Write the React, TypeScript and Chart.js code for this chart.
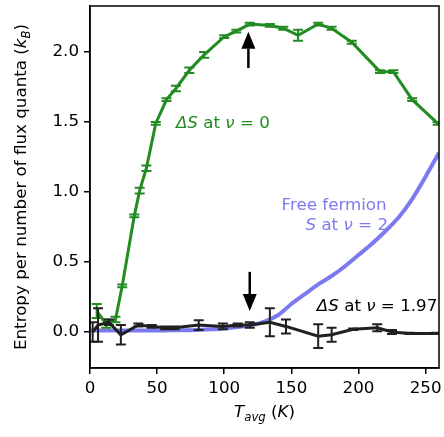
import React, { useEffect, useRef } from "react";
import { Chart, registerables } from "chart.js";
Chart.register(...registerables);

const greenT = [5, 12, 19, 24, 33, 37, 42, 49, 57, 64, 74, 85, 100, 109, 119, 134, 144, 155, 170, 180, 195, 216, 226, 240, 259];
const greenS = [0.15, 0.06, 0.09, 0.33, 0.83, 1.01, 1.17, 1.49, 1.66, 1.74, 1.87, 1.98, 2.11, 2.15, 2.2, 2.19, 2.17, 2.12, 2.2, 2.17, 2.07, 1.86, 1.86, 1.66, 1.49];
const greenErr = [0.05, 0.03, 0.02, 0.01, 0.01, 0.02, 0.02, 0.01, 0.01, 0.02, 0.02, 0.02, 0.01, 0.01, 0.01, 0.01, 0.01, 0.04, 0.01, 0.01, 0.01, 0.01, 0.01, 0.01, 0.01];

const blackT = [2, 6, 14, 23, 36, 46, 56, 63, 81, 99, 110, 119, 134, 146, 170, 180, 196, 214, 225, 238, 258];
const blackS = [0.0, 0.05, 0.07, -0.02, 0.05, 0.04, 0.03, 0.03, 0.05, 0.04, 0.05, 0.05, 0.07, 0.04, -0.03, -0.02, 0.02, 0.03, 0.0, -0.01, -0.01];
const blackErr = [0.07, 0.12, 0.02, 0.07, 0.01, 0.01, 0.01, 0.01, 0.035, 0.02, 0.01, 0.02, 0.1, 0.05, 0.085, 0.05, 0.005, 0.025, 0.015, 0.005, 0.005];

const fermionT = [0, 20, 40, 60, 80, 100, 110, 120, 130, 140, 150, 160, 170, 180, 190, 200, 210, 220, 230, 240, 250, 260];
const fermionS = [0.01, 0.01, 0.01, 0.012, 0.015, 0.025, 0.035, 0.05, 0.075, 0.12, 0.2, 0.27, 0.34, 0.4, 0.47, 0.55, 0.63, 0.72, 0.82, 0.95, 1.11, 1.28];

const xTicks = [0, 50, 100, 150, 200, 250];
const yTicks = [0, 0.5, 1.0, 1.5, 2.0];

const arrowUp = { x: 118, from: 1.886, to: 2.145 };
const arrowDown = { x: 119, from: 0.43, to: 0.15 };

const GREEN = "#228b22";
const BLACK = "#202020";
const BLUE = "#7b7bef";
const FONT = '"DejaVu Sans"';
const FS = 16.7;

type Run = [string, string];

function drawRich(ctx: CanvasRenderingContext2D, runs: Run[], x: number, y: number, align: string, color: string, size: number) {
  const fontFor = (s: string) => {
    const it = s.includes("i") ? "italic " : "";
    const sz = s.includes("s") ? size * 0.7 : size;
    return `${it}${sz}px ${FONT}`;
  };
  let total = 0;
  const widths = runs.map(([t, s]) => {
    ctx.font = fontFor(s);
    const w = ctx.measureText(t).width;
    total += w;
    return w;
  });
  let cx = align === "left" ? x : align === "right" ? x - total : x - total / 2;
  ctx.fillStyle = color;
  ctx.textBaseline = "alphabetic";
  ctx.textAlign = "left";
  runs.forEach(([t, s], i) => {
    ctx.font = fontFor(s);
    ctx.fillText(t, cx, y + (s.includes("s") ? size * 0.22 : 0));
    cx += widths[i];
  });
}

const errorBars = {
  id: "errorBars",
  afterDatasetDraw(chart: any, args: any) {
    const ds = chart.data.datasets[args.index];
    if (!ds.errors) return;
    const { ctx, chartArea } = chart;
    const xs = chart.scales.x;
    const ys = chart.scales.y;
    ctx.save();
    ctx.beginPath();
    ctx.rect(chartArea.left, chartArea.top, chartArea.right - chartArea.left, chartArea.bottom - chartArea.top);
    ctx.clip();
    ctx.strokeStyle = ds.borderColor;
    ctx.lineWidth = 2;
    ds.data.forEach((p: any, i: number) => {
      const e = ds.errors[i];
      const px = xs.getPixelForValue(p.x);
      const y1 = ys.getPixelForValue(p.y + e);
      const y2 = ys.getPixelForValue(p.y - e);
      ctx.beginPath();
      ctx.moveTo(px, y1);
      ctx.lineTo(px, y2);
      ctx.moveTo(px - 5, y1);
      ctx.lineTo(px + 5, y1);
      ctx.moveTo(px - 5, y2);
      ctx.lineTo(px + 5, y2);
      ctx.stroke();
    });
    ctx.restore();
  },
};

function drawArrow(ctx: CanvasRenderingContext2D, x: number, y0: number, y1: number) {
  const dir = y1 < y0 ? -1 : 1;
  const headLen = 17;
  const headW = 7;
  ctx.strokeStyle = "#000";
  ctx.fillStyle = "#000";
  ctx.lineWidth = 2.5;
  ctx.beginPath();
  ctx.moveTo(x, y0);
  ctx.lineTo(x, y1 - dir * headLen);
  ctx.stroke();
  ctx.beginPath();
  ctx.moveTo(x, y1);
  ctx.lineTo(x - headW, y1 - dir * headLen);
  ctx.lineTo(x + headW, y1 - dir * headLen);
  ctx.closePath();
  ctx.fill();
}

const decorations = {
  id: "decorations",
  afterDraw(chart: any) {
    const { ctx, chartArea } = chart;
    const xs = chart.scales.x;
    const ys = chart.scales.y;
    ctx.save();
    ctx.strokeStyle = "#000";
    ctx.lineWidth = 1.5;
    ctx.strokeRect(chartArea.left, chartArea.top, chartArea.right - chartArea.left, chartArea.bottom - chartArea.top);
    drawArrow(ctx, xs.getPixelForValue(arrowUp.x), ys.getPixelForValue(arrowUp.from), ys.getPixelForValue(arrowUp.to));
    drawArrow(ctx, xs.getPixelForValue(arrowDown.x), ys.getPixelForValue(arrowDown.from), ys.getPixelForValue(arrowDown.to));
    const cap = FS * 0.36;
    drawRich(ctx, [["ΔS", "i"], [" at ", "n"], ["ν", "i"], [" = 0", "n"]], xs.getPixelForValue(64), ys.getPixelForValue(1.5) + cap, "left", GREEN, FS);
    drawRich(ctx, [["Free fermion", "n"]], xs.getPixelForValue(221), ys.getPixelForValue(0.914) + cap, "right", BLUE, FS);
    drawRich(ctx, [["S", "i"], [" at ", "n"], ["ν", "i"], [" = 2", "n"]], xs.getPixelForValue(222), ys.getPixelForValue(0.771) + cap, "right", BLUE, FS);
    drawRich(ctx, [["ΔS", "i"], [" at ", "n"], ["ν", "i"], [" = 1.97", "n"]], xs.getPixelForValue(169), ys.getPixelForValue(0.193) + cap, "left", "#000", FS);
    const cx = (chartArea.left + chartArea.right) / 2;
    drawRich(ctx, [["T", "i"], ["avg", "is"], [" (", "n"], ["K", "i"], [")", "n"]], cx, 417, "center", "#000", FS);
    ctx.translate(26, (chartArea.top + chartArea.bottom) / 2);
    ctx.rotate(-Math.PI / 2);
    drawRich(ctx, [["Entropy per number of flux quanta (", "n"], ["k", "i"], ["B", "is"], [")", "n"]], 0, 0, "center", "#000", FS);
    ctx.restore();
  },
};

export default function App() {
  const ref = useRef<HTMLCanvasElement>(null);
  useEffect(() => {
    if (!ref.current) return;
    const chart = new Chart(ref.current, {
      type: "line",
      data: {
        datasets: [
          {
            label: "nu197",
            data: blackT.map((t, i) => ({ x: t, y: blackS[i] })),
            errors: blackErr,
            borderColor: BLACK,
            borderWidth: 3,
            pointRadius: 0,
            tension: 0,
            order: 0,
          } as any,
          {
            label: "nu0",
            data: greenT.map((t, i) => ({ x: t, y: greenS[i] })),
            errors: greenErr,
            borderColor: GREEN,
            borderWidth: 3,
            pointRadius: 0,
            tension: 0,
            order: 1,
          } as any,
          {
            label: "fermion",
            data: fermionT.map((t, i) => ({ x: t, y: fermionS[i] })),
            borderColor: BLUE,
            borderWidth: 4,
            pointRadius: 0,
            cubicInterpolationMode: "monotone",
            order: 2,
          } as any,
        ],
      },
      options: {
        animation: false,
        responsive: false,
        devicePixelRatio: 1,
        layout: { padding: { left: 0, top: 6, right: 5, bottom: 0 } },
        plugins: { legend: { display: false }, tooltip: { enabled: false } },
        scales: {
          x: {
            type: "linear",
            min: 0,
            max: 260,
            afterBuildTicks: (s: any) => { s.ticks = xTicks.map((v) => ({ value: v })); },
            afterFit: (s: any) => { s.height = 69; s.paddingLeft = 0; s.paddingRight = 0; },
            ticks: { color: "#000", font: { family: "DejaVu Sans", size: FS }, padding: 5, maxRotation: 0, callback: (v: any) => String(v) },
            grid: { drawOnChartArea: false, drawTicks: true, tickLength: 6, color: "#000", lineWidth: 1.5 },
            border: { display: true, color: "#000", width: 1.5 },
          },
          y: {
            type: "linear",
            min: -0.257,
            max: 2.329,
            afterBuildTicks: (s: any) => { s.ticks = yTicks.map((v) => ({ value: v })); },
            afterFit: (s: any) => { s.width = 90; s.paddingTop = 0; s.paddingBottom = 0; },
            ticks: { color: "#000", font: { family: "DejaVu Sans", size: FS }, padding: 5, callback: (v: any) => Number(v).toFixed(1) },
            grid: { drawOnChartArea: false, drawTicks: true, tickLength: 6, color: "#000", lineWidth: 1.5 },
            border: { display: true, color: "#000", width: 1.5 },
          },
        },
      },
      plugins: [errorBars, decorations],
    } as any);
    return () => chart.destroy();
  }, []);
  return (
    <div style={{ position: "absolute", left: 0, top: 0, width: 444, height: 437, background: "#fff" }}>
      <canvas ref={ref} width={444} height={437} style={{ width: 444, height: 437 }} />
    </div>
  );
}
